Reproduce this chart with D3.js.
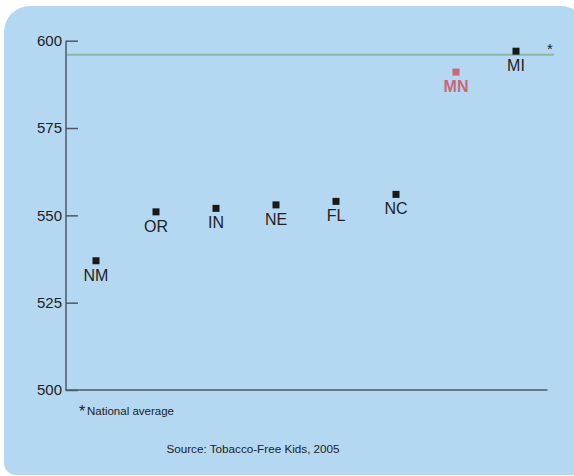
<!DOCTYPE html>
<html><head><meta charset="utf-8">
<script src="https://cdn.jsdelivr.net/npm/d3@7"></script>
<style>body{margin:0;background:#fff}svg{display:block}</style>
</head><body>
<script>
const states = ["NM","OR","IN","NE","FL","NC","MN","MI"];
const values = [537, 551, 552, 553, 554, 556, 591, 597];
const highlight = ["MN"];
const nationalAverage = 596;
const yTicks = [500, 525, 550, 575, 600];
const footnote = "National average";
const source = "Source: Tobacco-Free Kids, 2005";

const W = 574, H = 476;
const svg = d3.select("body").append("svg").attr("width", W).attr("height", H);

function panelPath(x0, y0, x1, y1, tl, tr, br, bl) {
  const p = d3.path();
  p.moveTo(x0 + tl, y0);
  p.lineTo(x1 - tr, y0);
  p.arcTo(x1, y0, x1, y0 + tr, tr);
  p.lineTo(x1, y1 - br);
  p.lineTo(x1, y1);
  p.lineTo(x0 + bl, y1);
  p.arcTo(x0, y1, x0, y1 - bl, bl);
  p.lineTo(x0, y0 + tl);
  p.arcTo(x0, y0, x0 + tl, y0, tl);
  p.closePath();
  return p.toString();
}
svg.append("path").attr("d", panelPath(4, 6, 590, 475, 26, 30, 0, 12)).attr("fill", "#b4d8f1");

const font = "Liberation Sans, Arial, Helvetica, sans-serif";
const y = d3.scaleLinear().domain([500, 600]).range([390, 40.7]);
const x = d3.scaleBand().domain(states).range([66, 546]);

svg.append("line").attr("x1", 67).attr("x2", 554)
  .attr("y1", y(nationalAverage)).attr("y2", y(nationalAverage))
  .attr("stroke", "#8ab8a6").attr("stroke-width", 2);
svg.append("text").attr("x", 550).attr("y", y(nationalAverage) - 1)
  .attr("text-anchor", "middle").attr("font-family", font).attr("font-size", 15)
  .attr("fill", "#222").text("*");

const yAxis = d3.axisRight(y).tickValues(yTicks).tickSize(12).tickFormat(d3.format("d"));
const gy = svg.append("g").attr("transform", "translate(66,0)").call(yAxis);
gy.select(".domain").remove();
gy.selectAll(".tick line").attr("stroke", "#4d5866").attr("stroke-width", 1.5);
gy.selectAll(".tick text").attr("x", -4).attr("text-anchor", "end")
  .attr("font-family", font).attr("font-size", 15).attr("fill", "#222");
svg.append("line").attr("x1", 66).attr("x2", 66).attr("y1", y(600)).attr("y2", y(500))
  .attr("stroke", "#4d5866").attr("stroke-width", 1.5);
svg.append("line").attr("x1", 65.25).attr("x2", 547.5).attr("y1", y(500)).attr("y2", y(500))
  .attr("stroke", "#4d5866").attr("stroke-width", 1.5);

const data = states.map((s, i) => ({s, v: values[i], hi: highlight.includes(s)}));
const cx = d => x(d.s) + x.bandwidth() / 2;
svg.selectAll("rect.pt").data(data).enter().append("rect").attr("class", "pt")
  .attr("x", d => cx(d) - 3.5).attr("y", d => y(d.v) - 3.5)
  .attr("width", 7).attr("height", 7)
  .attr("fill", d => d.hi ? "#cc6676" : "#1a1a1a");
svg.selectAll("text.lbl").data(data).enter().append("text").attr("class", "lbl")
  .attr("x", cx).attr("y", d => y(d.v) + 20)
  .attr("text-anchor", "middle").attr("font-family", font)
  .attr("font-size", 16)
  .attr("font-weight", d => d.hi ? "bold" : "normal")
  .attr("fill", d => d.hi ? "#cc6676" : "#222").text(d => d.s);

svg.append("text").attr("x", 79).attr("y", 417).attr("font-family", font).attr("font-size", 16)
  .attr("fill", "#222").text("*");
svg.append("text").attr("x", 87).attr("y", 415).attr("font-family", font).attr("font-size", 11.5)
  .attr("fill", "#222").text(footnote);
svg.append("text").attr("x", 253).attr("y", 453).attr("text-anchor", "middle")
  .attr("font-family", font).attr("font-size", 11.7).attr("fill", "#222").text(source);
</script>
</body></html>
